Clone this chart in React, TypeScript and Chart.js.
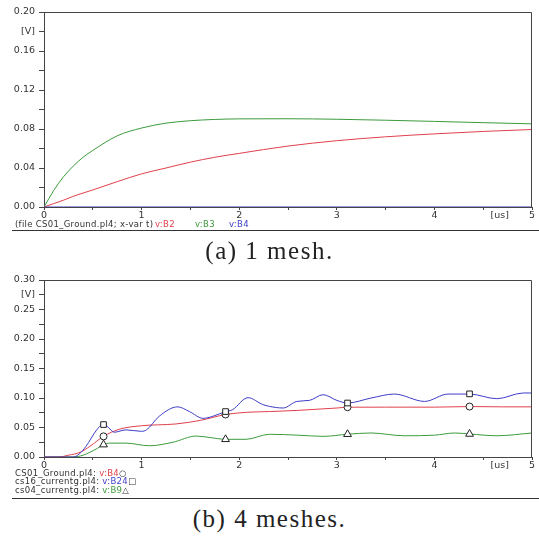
import React, { useEffect, useRef } from "react";
import { Chart, registerables } from "chart.js";
Chart.register(...registerables);

// ---------- (a) 1 mesh ----------
const tA = [0, 0.1, 0.2, 0.3, 0.4, 0.5, 0.75, 1, 1.25, 1.5, 1.75, 2, 2.5, 3, 3.5, 4, 4.5, 5];
const a_B2 = [0, 0.0035, 0.007, 0.011, 0.0143, 0.0175, 0.026, 0.034, 0.04, 0.046, 0.051, 0.055, 0.0625, 0.068, 0.072, 0.075, 0.0775, 0.0795];
const a_B3 = [0, 0.017, 0.031, 0.042, 0.051, 0.058, 0.073, 0.081, 0.086, 0.0885, 0.0898, 0.0904, 0.0905, 0.09, 0.089, 0.0878, 0.0865, 0.0853];
const a_B4 = [0, 0, 0, 0, 0, 0, 0, 0, 0, 0, 0, 0, 0, 0, 0, 0, 0, 0];

// ---------- (b) 4 meshes ----------
const tB_B4 = [0, 0.15, 0.25, 0.37, 0.47, 0.61, 0.77, 1.0, 1.35, 1.6, 1.86, 2.07, 2.31, 2.6, 3.0, 3.11, 3.5, 4.0, 4.36, 4.7, 5.0];
const b_B4 = [0, 0, 0.003, 0.008, 0.018, 0.035, 0.047, 0.053, 0.056, 0.062, 0.072, 0.0757, 0.077, 0.079, 0.083, 0.0844, 0.0845, 0.0845, 0.0855, 0.085, 0.085];

const tB_B24 = [0, 0.3, 0.36, 0.43, 0.54, 0.61, 0.66, 0.72, 0.84, 1.0, 1.05, 1.18, 1.37, 1.49, 1.63, 1.73, 1.86, 1.93, 2.09, 2.24, 2.31, 2.45, 2.59, 2.72, 2.86, 3.0, 3.11, 3.35, 3.59, 3.9, 4.14, 4.36, 4.64, 4.91, 5.0];
const b_B24 = [0, 0, 0.005, 0.018, 0.046, 0.0565, 0.05, 0.042, 0.046, 0.0435, 0.046, 0.069, 0.085, 0.077, 0.0655, 0.069, 0.077, 0.08, 0.1006, 0.089, 0.0858, 0.083, 0.0942, 0.096, 0.1056, 0.096, 0.0915, 0.0999, 0.1067, 0.0942, 0.1067, 0.1067, 0.0988, 0.1085, 0.1085];

const tB_B9 = [0, 0.3, 0.4, 0.47, 0.55, 0.61, 0.67, 0.84, 1.08, 1.32, 1.56, 1.7, 1.86, 2.07, 2.31, 2.6, 2.86, 3.11, 3.35, 3.69, 4.0, 4.21, 4.36, 4.64, 5.0];
const b_B9 = [0, 0, 0.003, 0.008, 0.015, 0.021, 0.0235, 0.0235, 0.019, 0.025, 0.0355, 0.033, 0.03, 0.03, 0.0385, 0.037, 0.035, 0.0386, 0.0407, 0.036, 0.037, 0.0407, 0.039, 0.036, 0.0407];

const markT = [0.61, 1.86, 3.11, 4.36];
const mark_B4 = [0.035, 0.072, 0.0844, 0.0855];
const mark_B24 = [0.055, 0.077, 0.0915, 0.107];
const mark_B9 = [0.021, 0.03, 0.0386, 0.039];

const RED = "#e0404c";
const GREEN = "#3c9a3c";
const BLUE = "#3c3cc8";
const AXIS = "#444";
const TXT = "#333";
const FONT = "DejaVu Sans";

const pts = (t: number[], v: number[]) => t.map((x, i) => ({ x, y: v[i] }));

const framePlugin = {
  id: "frame",
  afterDraw(chart: any) {
    const { ctx, chartArea: a, scales } = chart;
    ctx.save();
    ctx.strokeStyle = AXIS;
    ctx.lineWidth = 1;
    ctx.beginPath();
    ctx.moveTo(a.left, a.top + 0.5);
    ctx.lineTo(a.right - 0.5, a.top + 0.5);
    ctx.lineTo(a.right - 0.5, a.bottom);
    ctx.stroke();
    ctx.fillStyle = TXT;
    ctx.font = `9.5px "${FONT}"`;
    ctx.textAlign = "center";
    ctx.textBaseline = "middle";
    ctx.fillText("[us]", scales.x.getPixelForValue(4.67), a.bottom + 8.5);
    ctx.restore();
  },
};

function makeOptions(yMax: number, step: number, vLabel: number, labelEvery: number) {
  return {
    responsive: false,
    animation: false as const,
    layout: { padding: { left: 0, right: 7, top: 12, bottom: 0 } },
    plugins: { legend: { display: false }, tooltip: { enabled: false } },
    elements: { point: { radius: 0 } },
    scales: {
      x: {
        type: "linear" as const,
        min: 0,
        max: 5,
        afterFit: (s: any) => {
          s.height = 15;
        },
        ticks: {
          stepSize: 0.5,
          autoSkip: false,
          maxRotation: 0,
          padding: 0,
          color: TXT,
          font: { family: FONT, size: 9.5 },
          callback: (v: any) => (Math.abs(v - Math.round(v)) < 1e-6 && v !== 4.5 ? String(Math.round(v)) : ""),
        },
        grid: { drawOnChartArea: false, drawTicks: true, tickLength: 3, color: AXIS },
        border: { color: AXIS },
      },
      y: {
        type: "linear" as const,
        min: 0,
        max: yMax,
        afterFit: (s: any) => {
          s.width = 44;
        },
        ticks: {
          stepSize: step,
          autoSkip: false,
          padding: 4,
          color: TXT,
          font: { family: FONT, size: 9.5 },
          callback: (v: any) => {
            const k = Math.round(v / step);
            if (k === Math.round(vLabel / step)) return "[V]";
            return k % labelEvery === 0 ? Number(v).toFixed(2) : "";
          },
        },
        grid: { drawOnChartArea: false, drawTicks: true, tickLength: 5, color: AXIS },
        border: { color: AXIS },
      },
    },
  };
}

const lineDs = (data: any, color: string) => ({
  data,
  borderColor: color,
  borderWidth: 1,
  pointRadius: 0,
  fill: false,
  cubicInterpolationMode: "monotone" as const,
});

const markDs = (data: any, style: string, r: number) => ({
  data,
  showLine: false,
  pointStyle: style,
  pointRadius: r,
  pointBackgroundColor: "#ffffff",
  pointBorderColor: "#222",
  pointBorderWidth: 1,
  borderColor: "#222",
});

function ChartA() {
  const ref = useRef<HTMLCanvasElement>(null);
  useEffect(() => {
    const c = new Chart(ref.current!, {
      type: "line",
      data: {
        datasets: [
          lineDs(pts(tA, a_B4), BLUE),
          lineDs(pts(tA, a_B2), RED),
          lineDs(pts(tA, a_B3), GREEN),
        ],
      },
      options: makeOptions(0.2, 0.02, 0.18, 2) as any,
      plugins: [framePlugin],
    });
    return () => c.destroy();
  }, []);
  return <canvas ref={ref} width={539} height={222} style={{ position: "absolute", left: 0, top: 0 }} />;
}

function ChartB() {
  const ref = useRef<HTMLCanvasElement>(null);
  useEffect(() => {
    const c = new Chart(ref.current!, {
      type: "line",
      data: {
        datasets: [
          markDs(pts(markT, mark_B24), "rect", 4),
          markDs(pts(markT, mark_B4), "circle", 3.5),
          markDs(pts(markT, mark_B9), "triangle", 4.5),
          lineDs(pts(tB_B24, b_B24), BLUE),
          lineDs(pts(tB_B4, b_B4), RED),
          lineDs(pts(tB_B9, b_B9), GREEN),
        ] as any,
      },
      options: makeOptions(0.3, 0.025, 0.275, 2) as any,
      plugins: [framePlugin],
    });
    return () => c.destroy();
  }, []);
  return <canvas ref={ref} width={539} height={204} style={{ position: "absolute", left: 0, top: 268 }} />;
}

const legendText: React.CSSProperties = {
  position: "absolute",
  fontFamily: FONT,
  fontSize: 8.5,
  letterSpacing: "0.3px",
  color: TXT,
  whiteSpace: "nowrap",
  lineHeight: "10px",
};

const caption: React.CSSProperties = {
  position: "absolute",
  left: 0,
  width: 539,
  textAlign: "center",
  fontFamily: "Liberation Serif",
  fontSize: 25,
  lineHeight: "25px",
  letterSpacing: "1.5px",
  color: "#222",
};

export default function App() {
  return (
    <div style={{ position: "absolute", left: 0, top: 0, width: 539, height: 539, background: "#fff", overflow: "hidden" }}>
      <ChartA />
      <div style={{ ...legendText, left: 15, top: 219 }}>(file CS01_Ground.pl4; x-var t)</div>
      <div style={{ ...legendText, left: 155, top: 219, color: RED }}>v:B2</div>
      <div style={{ ...legendText, left: 195, top: 219, color: GREEN }}>v:B3</div>
      <div style={{ ...legendText, left: 229, top: 219, color: BLUE }}>v:B4</div>
      <div style={{ position: "absolute", left: 12, top: 230, width: 527, height: 1, background: "#333" }} />
      <div style={{ ...caption, top: 238 }}>(a) 1 mesh.</div>

      <ChartB />
      <div style={{ ...legendText, left: 15, top: 469, lineHeight: "8.4px" }}>
        <div>
          CS01_Ground.pl4: <span style={{ color: RED }}>v:B4</span>○
        </div>
        <div>
          cs16_currentg.pl4: <span style={{ color: BLUE }}>v:B24</span>□
        </div>
        <div>
          cs04_currentg.pl4: <span style={{ color: GREEN }}>v:B9</span>△
        </div>
      </div>
      <div style={{ position: "absolute", left: 12, top: 498, width: 527, height: 1, background: "#333" }} />
      <div style={{ ...caption, top: 506 }}>(b) 4 meshes.</div>
    </div>
  );
}
